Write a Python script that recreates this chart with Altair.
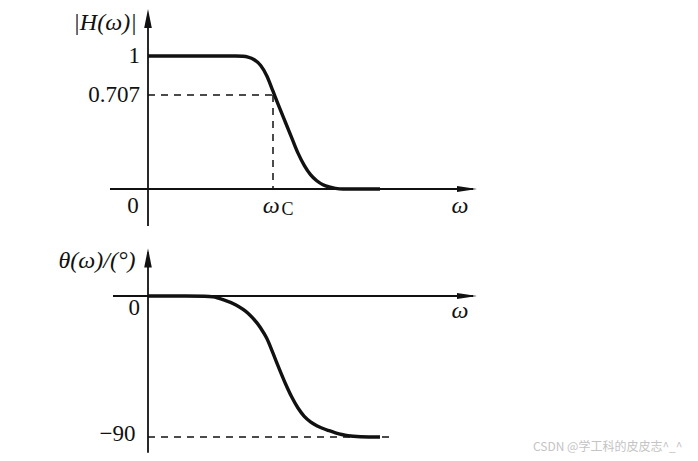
import altair as alt
import pandas as pd

# ---------------- data (omega in units of omega_c) ----------------
omega_mag = [0.0, 0.40, 0.70, 0.76, 0.80, 0.85, 0.90, 0.95, 1.0, 1.05, 1.10, 1.15, 1.20, 1.25,
             1.30, 1.35, 1.40, 1.45, 1.50, 1.56, 1.856]
mag = [1.0, 1.0, 1.0, 0.998, 0.992, 0.972, 0.93, 0.852, 0.735, 0.615, 0.50, 0.385, 0.27, 0.178,
       0.108, 0.062, 0.032, 0.015, 0.005, 0.0, 0.0]

omega_ph = [0.0, 0.30, 0.45, 0.52, 0.60, 0.70, 0.80, 0.90, 0.95, 1.0, 1.05, 1.10, 1.15, 1.20,
            1.25, 1.30, 1.35, 1.40, 1.45, 1.50, 1.55, 1.60, 1.70, 1.856]
phase = [0.0, 0.0, -0.2, -0.6, -2.3, -5.6, -11.0, -20.3, -27.0, -36.5, -46.5, -56.0, -64.5, -71.5,
         -76.8, -80.3, -82.8, -84.6, -86.0, -87.3, -88.4, -89.2, -89.8, -90.0]

cutoff_level = 0.707
omega_c = 1.0
phase_floor = -90

mag_ticks = ["1", "0.707"]
phase_ticks = ["0", "\u221290"]

# ---------------- layout ----------------
W = 682
H_TOP = 237
H_BOT = 208
X_DOM = [-1.12, 4.336]
Y_TOP_DOM = [-0.4286, 1.3534]
Y_BOT_DOM = [-100.85, 31.91]

INK = "#111111"
SERIF = "Liberation Serif"

xs = alt.Scale(domain=X_DOM, nice=False, zero=False)


def rules(df, ys, dash=None, width=1.8):
    kw = dict(color=INK, strokeWidth=width)
    if dash:
        kw["strokeDash"] = dash
    return alt.Chart(df).mark_rule(**kw).encode(
        x=alt.X("x:Q", scale=xs, axis=None),
        x2="x2:Q",
        y=alt.Y("y:Q", scale=ys, axis=None),
        y2="y2:Q",
    )


def curve(xv, yv, ys):
    df = pd.DataFrame({"x": xv, "y": yv})
    return alt.Chart(df).mark_line(color=INK, strokeWidth=3.4, interpolate="monotone").encode(
        x=alt.X("x:Q", scale=xs, axis=None),
        y=alt.Y("y:Q", scale=ys, axis=None),
    )


def arrow(x, y, shape, ys, size):
    df = pd.DataFrame({"x": [x], "y": [y]})
    return alt.Chart(df).mark_point(shape=shape, filled=True, opacity=1, color=INK, size=size).encode(
        x=alt.X("x:Q", scale=xs, axis=None),
        y=alt.Y("y:Q", scale=ys, axis=None),
    )


def label(x, y, txt, ys, size=22, align="center", style="normal", font=SERIF, color=INK, dy=0):
    df = pd.DataFrame({"x": [x], "y": [y], "t": [txt]})
    return alt.Chart(df).mark_text(
        font=font, fontSize=size, align=align, baseline="middle", fontStyle=style, color=color, dy=dy
    ).encode(
        x=alt.X("x:Q", scale=xs, axis=None),
        y=alt.Y("y:Q", scale=ys, axis=None),
        text="t:N",
    )


UP = "M0,-1L0.4,1L-0.4,1Z"
RIGHT = "M1,0L-1,0.3L-1,-0.3Z"

# ---------------- top panel: |H(w)| ----------------
yt = alt.Scale(domain=Y_TOP_DOM, nice=False, zero=False)
top_axes = rules(pd.DataFrame({
    "x": [-0.304, 0.0], "x2": [2.60, 0.0], "y": [0.0, -0.278], "y2": [0.0, 1.30]}), yt)
top_dash = rules(pd.DataFrame({
    "x": [0.0, omega_c], "x2": [omega_c, omega_c], "y": [cutoff_level, cutoff_level], "y2": [cutoff_level, 0.0]}),
    yt, dash=[7, 6], width=1.5)
top = alt.layer(
    top_axes,
    top_dash,
    curve(omega_mag, mag, yt),
    arrow(0.0, 1.282, UP, yt, 361),
    arrow(2.552, 0.0, RIGHT, yt, 400),
    label(-0.344, 1.248, "|H(\u03c9)|", yt, size=24, style="italic"),
    label(-0.064, 1.0, mag_ticks[0], yt, align="right", size=23),
    label(-0.064, cutoff_level, mag_ticks[1], yt, align="right", size=23),
    label(-0.12, -0.128, "0", yt, size=23),
    label(0.985, -0.128, "\u03c9", yt, size=24, style="italic"),
    label(1.115, -0.16, "C", yt, size=18),
    label(2.496, -0.128, "\u03c9", yt, size=24, style="italic"),
).properties(width=W, height=H_TOP)

# ---------------- bottom panel: theta(w) ----------------
yb = alt.Scale(domain=Y_BOT_DOM, nice=False, zero=False)
bot_axes = rules(pd.DataFrame({
    "x": [-0.28, 0.0], "x2": [2.60, 0.0], "y": [0.0, -100.0], "y2": [0.0, 28.0]}), yb)
bot_dash = rules(pd.DataFrame({"x": [0.0], "x2": [1.976], "y": [phase_floor], "y2": [phase_floor]}),
                 yb, dash=[7, 6], width=1.5)
bottom = alt.layer(
    bot_axes,
    bot_dash,
    curve(omega_ph, phase, yb),
    arrow(0.0, 24.3, UP, yb, 361),
    arrow(2.552, 0.0, RIGHT, yb, 400),
    label(-0.408, 22.3, "\u03b8(\u03c9)/(\u00b0)", yb, size=24, style="italic"),
    label(-0.064, -7.7, phase_ticks[0], yb, align="right", size=23),
    label(-0.10, -88.0, phase_ticks[1], yb, align="right", size=23),
    label(2.496, -9.6, "\u03c9", yb, size=24, style="italic"),
    label(3.08, -96.4, "CSDN @\u5b66\u5de5\u79d1\u7684\u76ae\u76ae\u5fd7^_^", yb, size=12, align="left",
          font="Noto Sans CJK SC", color="#c4c4c4"),
).properties(width=W, height=H_BOT)

chart = alt.vconcat(top, bottom, spacing=0, bounds="flush").properties(
    padding=0, background="white"
).configure_view(stroke=None)

chart.save("out.html", embed_options={"renderer": "svg", "actions": False})
